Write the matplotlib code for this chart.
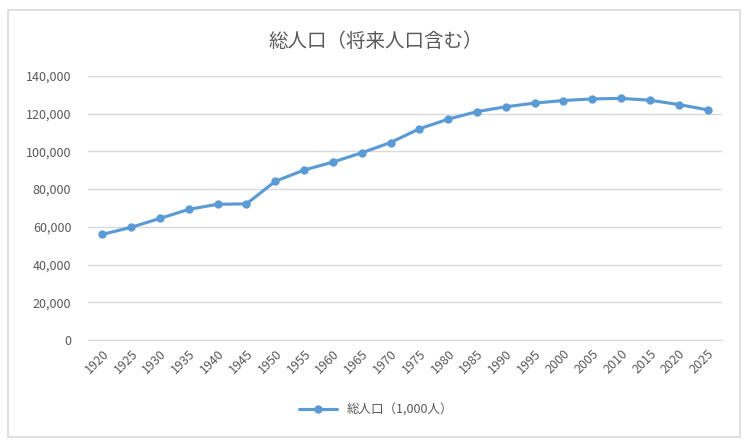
import matplotlib
matplotlib.use("Agg")
import matplotlib.pyplot as plt
from matplotlib.patches import Rectangle

plt.rcParams['font.family'] = ['Noto Sans CJK JP', 'DejaVu Sans']

years = [1920, 1925, 1930, 1935, 1940, 1945, 1950, 1955, 1960, 1965, 1970,
         1975, 1980, 1985, 1990, 1995, 2000, 2005, 2010, 2015, 2020, 2025]
population = [55963, 59737, 64450, 69254, 71933, 72147, 84115, 90077, 94302,
              99209, 104665, 111940, 117060, 121049, 123611, 125570, 126926,
              127768, 128057, 127095, 124800, 122000]
yticks = [0, 20000, 40000, 60000, 80000, 100000, 120000, 140000]
title = '総人口（将来人口含む）'
series_label = '総人口（1,000人）'

gray = '#595959'
fig = plt.figure(figsize=(7.52, 4.41), dpi=100)
fig.patch.set_facecolor('white')
border = Rectangle((0.0106, 0.009), 0.973, 0.968, transform=fig.transFigure,
                   facecolor='none', edgecolor='#d9d9d9', lw=1.2, zorder=-1)
fig.patches.append(border)

ax = fig.add_axes([0.117, 0.229, 0.843, 0.599])
ax.patch.set_alpha(0)
x = list(range(len(years)))
ax.plot(x, population, color='#5b9bd5', lw=2.25, marker='o', markersize=5,
        label=series_label, solid_capstyle='round')
ax.set_xlim(-0.5, len(years) - 0.5)
ax.set_ylim(0, 140000)
ax.set_yticks(yticks)
ax.set_yticklabels([f'{v:,}' for v in yticks])
ax.set_xticks(x)
ax.set_xticklabels([str(y) for y in years], rotation=45, ha='right', rotation_mode='anchor')
ax.grid(axis='y', color='#d9d9d9', lw=1)
ax.set_axisbelow(True)
for s in ['top', 'right', 'left']:
    ax.spines[s].set_visible(False)
ax.spines['bottom'].set_color('#d9d9d9')
ax.tick_params(axis='both', length=0, colors=gray, labelsize=9)
ax.tick_params(axis='y', pad=12)
ax.tick_params(axis='x', pad=5)

fig.text(0.5, 0.905, title, ha='center', va='center', fontsize=14, color=gray)
leg = fig.legend(loc='center', bbox_to_anchor=(0.5, 0.07), frameon=False, fontsize=9,
                 handlelength=3)
for t in leg.get_texts():
    t.set_color(gray)

fig.savefig('out.png', dpi=100)
